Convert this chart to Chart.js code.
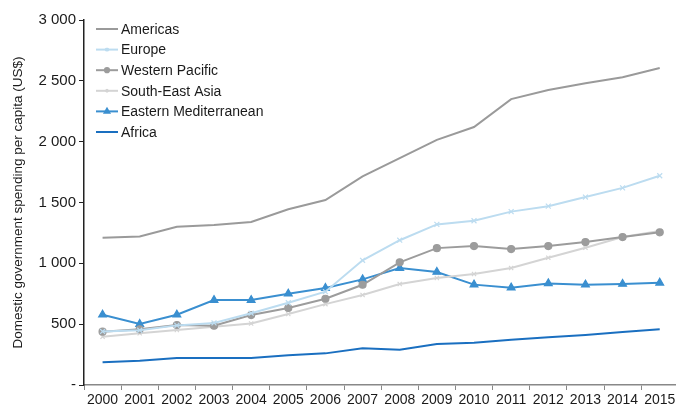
<!DOCTYPE html>
<html lang="en">

<head>
    <meta charset="UTF-8">
    <title>Domestic government spending per capita</title>
    <script src="https://cdn.jsdelivr.net/npm/chart.js"></script>
    <style>
        body {
            margin: 0;
            background: #fff;
            overflow: hidden;
        }

        #wrap {
            width: 684px;
            height: 407px;
        }
    </style>
</head>

<body>
    <div id="wrap"><canvas id="spendChart"></canvas></div>

    <script>
        // Data
        const years = ['2000', '2001', '2002', '2003', '2004', '2005', '2006', '2007',
            '2008', '2009', '2010', '2011', '2012', '2013', '2014', '2015'];
        const americas = [1210, 1220, 1300, 1315, 1340, 1445, 1520, 1715, 1865, 2015, 2120, 2350, 2425, 2480, 2530, 2605];
        const europe = [440, 450, 490, 510, 590, 676, 767, 1025, 1190, 1320, 1350, 1425, 1470, 1545, 1620, 1720];
        const westernPacific = [438, 458, 493, 487, 575, 633, 709, 824, 1008, 1125, 1142, 1117, 1142, 1175, 1216, 1255];
        const southEastAsia = [397, 425, 452, 479, 506, 583, 665, 740, 830, 880, 912, 961, 1046, 1128, 1216, 1265];
        const easternMed = [578, 501, 578, 698, 698, 750, 797, 868, 961, 929, 825, 800, 835, 825, 830, 840];
        const africa = [186, 200, 222, 222, 222, 244, 260, 302, 290, 337, 348, 372, 392, 411, 435, 458];
        const yTicks = [0, 500, 1000, 1500, 2000, 2500, 3000];

        const FONT = '"Liberation Sans", Arial, sans-serif';

        function fmt(v) {
            if (v === 0) return '-';
            return String(v).replace(/\B(?=(\d{3})+(?!\d))/g, ' ');
        }

        // Legend drawn inside the plot, top left, one row per series
        const innerLegend = {
            id: 'innerLegend',
            afterDraw(chart) {
                const ctx = chart.ctx;
                const x0 = chart.chartArea.left + 12;
                let y = 29;
                ctx.save();
                ctx.textBaseline = 'middle';
                chart.data.datasets.forEach(ds => {
                    ctx.strokeStyle = ds.borderColor;
                    ctx.fillStyle = ds.backgroundColor;
                    ctx.lineWidth = 2;
                    ctx.beginPath();
                    ctx.moveTo(x0, y);
                    ctx.lineTo(x0 + 22, y);
                    ctx.stroke();
                    if (ds.pointStyle && ds.pointRadius > 0) {
                        Chart.helpers.drawPoint(ctx, {
                            pointStyle: ds.pointStyle,
                            radius: ds.pointRadius * 0.6,
                            borderWidth: 1.5
                        }, x0 + 11, y);
                    }
                    ctx.font = '14px ' + FONT;
                    ctx.fillStyle = '#1a1a1a';
                    ctx.fillText(ds.label, x0 + 25, y + 1);
                    y += 20.6;
                });
                ctx.restore();
            }
        };

        function series(label, data, color, style, radius) {
            return {
                label: label,
                data: data,
                borderColor: color,
                backgroundColor: color,
                borderWidth: 2,
                pointStyle: style,
                pointRadius: radius,
                pointBorderWidth: 1.2,
                tension: 0
            };
        }

        new Chart(document.getElementById('spendChart'), {
            type: 'line',
            data: {
                labels: years,
                datasets: [
                    series('Americas', americas, '#9a9a9a', false, 0),
                    series('Europe', europe, '#bcdcf0', 'crossRot', 3.5),
                    series('Western Pacific', westernPacific, '#9c9c9c', 'circle', 3.5),
                    series('South-East Asia', southEastAsia, '#d4d4d4', 'crossRot', 3),
                    series('Eastern Mediterranean', easternMed, '#3a8fd0', 'triangle', 4.5),
                    series('Africa', africa, '#1a6fc0', false, 0)
                ]
            },
            options: {
                responsive: true,
                maintainAspectRatio: false,
                animation: false,
                layout: {
                    padding: { top: 20, right: 0, left: 0, bottom: 0 }
                },
                plugins: {
                    legend: { display: false },
                    tooltip: { enabled: false }
                },
                scales: {
                    x: {
                        offset: true,
                        grid: {
                            display: true,
                            offset: true,
                            drawOnChartArea: false,
                            tickLength: 5,
                            color: '#888'
                        },
                        border: { color: '#888', width: 1.5 },
                        ticks: {
                            color: '#1a1a1a',
                            font: { family: FONT, size: 14 },
                            padding: 2,
                            maxRotation: 0,
                            autoSkip: false
                        },
                        afterFit(scale) { scale.height = 22; }
                    },
                    y: {
                        min: 0,
                        max: 3000,
                        afterBuildTicks(scale) {
                            scale.ticks = yTicks.map(v => ({ value: v }));
                        },
                        grid: {
                            drawOnChartArea: false,
                            tickLength: 5,
                            color: '#222'
                        },
                        border: { color: '#222', width: 1.5 },
                        ticks: {
                            color: '#1a1a1a',
                            font: { family: FONT, size: 15 },
                            padding: 3,
                            callback: v => fmt(v)
                        },
                        title: {
                            display: true,
                            text: 'Domestic government spending per capita (US$)',
                            color: '#1a1a1a',
                            font: { family: FONT, size: 13.5 },
                            padding: { top: 10, bottom: 2 }
                        },
                        afterFit(scale) { scale.width = 84; }
                    }
                }
            },
            plugins: [innerLegend]
        });
    </script>
</body>

</html>
